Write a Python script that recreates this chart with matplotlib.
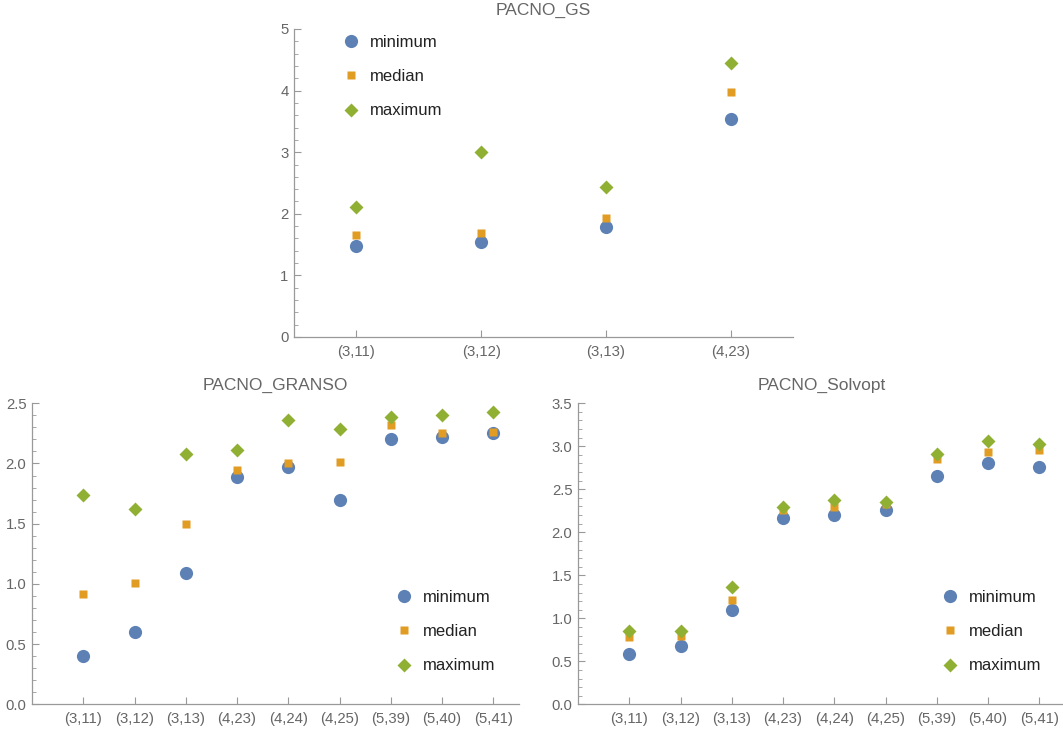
import matplotlib.pyplot as plt
from matplotlib.ticker import MultipleLocator

plt.rcParams["font.family"] = ["Liberation Sans", "DejaVu Sans"]

BLUE = "#5E81B5"
ORANGE = "#E19C24"
GREEN = "#8FB032"
AXIS_GRAY = "#999999"
TEXT_GRAY = "#666666"

# PACNO_GS
gs_labels = ["(3,11)", "(3,12)", "(3,13)", "(4,23)"]
gs_min = [1.47, 1.55, 1.79, 3.54]
gs_med = [1.66, 1.69, 1.93, 3.97]
gs_max = [2.11, 3.01, 2.43, 4.45]

# PACNO_GRANSO / PACNO_Solvopt
big_labels = ["(3,11)", "(3,12)", "(3,13)", "(4,23)", "(4,24)", "(4,25)", "(5,39)", "(5,40)", "(5,41)"]
granso_min = [0.40, 0.60, 1.09, 1.89, 1.97, 1.70, 2.20, 2.22, 2.25]
granso_med = [0.92, 1.01, 1.50, 1.95, 2.00, 2.01, 2.32, 2.25, 2.26]
granso_max = [1.74, 1.62, 2.08, 2.11, 2.36, 2.29, 2.39, 2.40, 2.43]

solvopt_min = [0.59, 0.68, 1.10, 2.17, 2.20, 2.26, 2.66, 2.81, 2.76]
solvopt_med = [0.78, 0.79, 1.21, 2.26, 2.30, 2.33, 2.85, 2.93, 2.96]
solvopt_max = [0.85, 0.85, 1.36, 2.30, 2.38, 2.35, 2.91, 3.06, 3.03]

W, H = 1063, 735
fig = plt.figure(figsize=(W / 100, H / 100), dpi=100)


def px_axes(left, right, top, bottom):
    return fig.add_axes([left / W, 1 - bottom / H, (right - left) / W, (bottom - top) / H])


def panel(ax, labels, mins, meds, maxs, title, ymax, major, minor, xlim, legend_xy):
    xs = list(range(1, len(labels) + 1))
    ax.plot(xs, mins, "o", color=BLUE, ms=9.5, mec="none", label="minimum")
    ax.plot(xs, meds, "s", color=ORANGE, ms=6.3, mec="none", label="median")
    ax.plot(xs, maxs, "D", color=GREEN, ms=6.8, mec="none", label="maximum")
    ax.set_xlim(*xlim)
    ax.set_ylim(0, ymax)
    ax.set_xticks(xs)
    ax.set_xticklabels(labels)
    ax.yaxis.set_major_locator(MultipleLocator(major))
    ax.yaxis.set_minor_locator(MultipleLocator(minor))
    if major < 1:
        ax.yaxis.set_major_formatter(plt.FormatStrFormatter("%.1f"))
    for s in ["top", "right"]:
        ax.spines[s].set_visible(False)
    for s in ["left", "bottom"]:
        ax.spines[s].set_color(AXIS_GRAY)
        ax.spines[s].set_linewidth(0.9)
    ax.tick_params(which="both", direction="in", color=AXIS_GRAY, labelcolor=TEXT_GRAY,
                   labelsize=10.7)
    ax.tick_params(axis="x", pad=5.5)
    ax.tick_params(axis="y", pad=4)
    ax.tick_params(which="major", length=5, width=0.8)
    ax.tick_params(which="minor", length=3, width=0.6)
    ax.set_facecolor("none")
    ax.set_title(title, fontsize=12.5, color=TEXT_GRAY, pad=10)
    leg = ax.legend(loc="upper left", bbox_to_anchor=(legend_xy[0] / W, 1 - legend_xy[1] / H),
                    bbox_transform=fig.transFigure, frameon=False, fontsize=12,
                    handletextpad=0.55, labelspacing=1.15, borderpad=0, borderaxespad=0,
                    handlelength=1.2)
    for t in leg.get_texts():
        t.set_color("#222222")


ax1 = px_axes(294, 793, 29, 337)
panel(ax1, gs_labels, gs_min, gs_med, gs_max, "PACNO_GS", 5, 1, 0.2, (0.5, 4.5), (341, 35))

ax2 = px_axes(32, 519, 403.3, 704.3)
panel(ax2, big_labels, granso_min, granso_med, granso_max, "PACNO_GRANSO", 2.5, 0.5, 0.1, (0, 9.5), (394, 590))

ax3 = px_axes(578, 1065, 403.3, 704.3)
panel(ax3, big_labels, solvopt_min, solvopt_med, solvopt_max, "PACNO_Solvopt", 3.5, 0.5, 0.1, (0, 9.5), (940, 590))

fig.savefig("out.png", dpi=100)
